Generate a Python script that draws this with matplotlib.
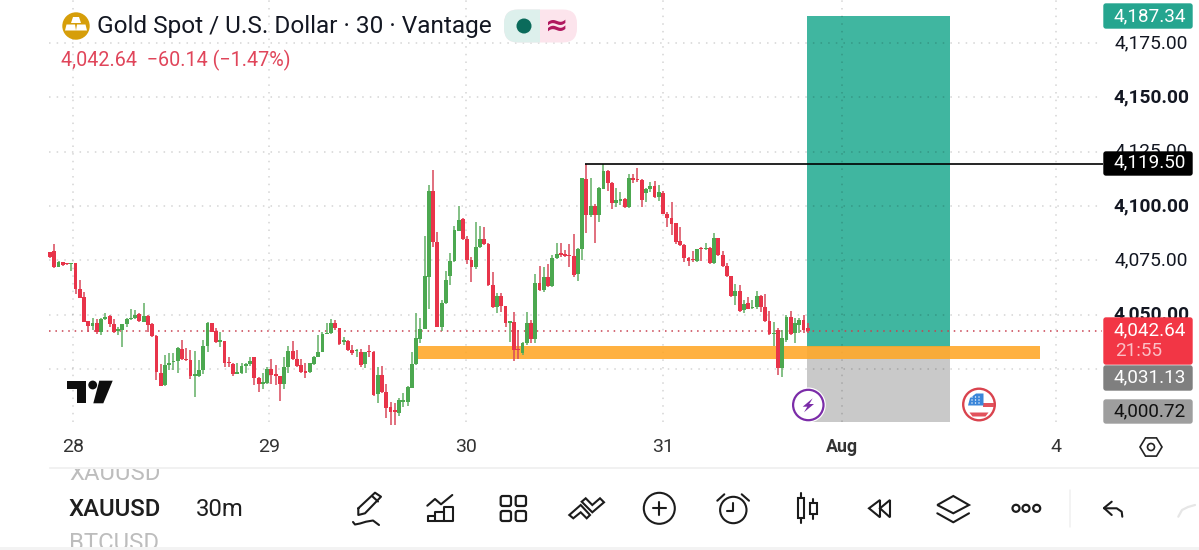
import numpy as np
import matplotlib
matplotlib.use("Agg")
import matplotlib.pyplot as plt
from matplotlib.patches import FancyBboxPatch, Circle, Ellipse, Polygon, Rectangle, Wedge

plt.rcParams['font.family'] = ['Roboto', 'DejaVu Sans']

opens = [4079.0,4079.3,4072.1,4074.1,4073.3,4073.1,4073.6,4061.6,4058.0,4047.2,
4044.8,4046.0,4041.8,4047.8,4049.5,4045.7,4042.5,4042.9,4045.5,4048.0,
4048.3,4050.3,4046.8,4049.5,4045.7,4040.2,4023.0,4017.4,4026.6,4028.2,
4028.8,4034.3,4029.6,4029.1,4021.9,4021.9,4024.5,4035.5,4046.3,4042.4,
4037.5,4037.8,4028.2,4027.3,4022.8,4023.3,4026.3,4027.3,4030.3,4020.8,
4018.2,4018.4,4024.9,4022.6,4021.7,4018.0,4025.7,4033.1,4029.4,4027.0,
4023.7,4023.4,4027.1,4030.6,4032.8,4041.1,4041.4,4046.0,4043.8,4037.5,
4038.0,4033.7,4033.2,4032.9,4027.3,4033.1,4032.9,4013.3,4022.3,4014.4,
4007.3,4005.6,4004.8,4009.9,4009.9,4016.4,4027.3,4038.8,4043.5,4067.5,
4106.9,4083.6,4044.4,4055.2,4067.8,4074.8,4088.7,4093.9,4084.7,4075.1,
4071.8,4081.0,4084.7,4082.5,4063.6,4053.7,4058.6,4054.1,4046.3,4046.6,
4034.0,4032.5,4036.8,4046.3,4038.8,4064.4,4061.3,4067.5,4063.2,4076.2,
4078.1,4077.6,4077.3,4077.0,4068.7,4080.1,4112.3,4095.9,4100.2,4095.9,
4107.8,4116.1,4110.8,4101.2,4102.5,4103.1,4099.4,4112.8,4112.3,4112.0,
4106.2,4107.7,4109.2,4104.3,4105.8,4096.3,4094.3,4092.0,4084.0,4082.2,
4075.9,4075.4,4074.7,4080.5,4080.2,4080.8,4073.9,4085.1,4077.5,4072.4,
4067.8,4058.6,4060.7,4052.1,4055.2,4053.0,4053.3,4058.6,4053.7,4047.1,
4040.9,4042.9,4025.3,4038.3,4049.1,4041.4,4045.4,4047.5,4043.7]

highs = [4079.0,4082.4,4074.7,4074.4,4073.6,4073.6,4073.6,4065.9,4060.6,4047.2,
4048.6,4047.8,4048.3,4050.6,4049.8,4047.8,4044.4,4045.7,4048.3,4052.4,
4052.1,4050.9,4055.2,4049.8,4046.0,4040.5,4027.3,4031.4,4032.5,4032.2,
4035.2,4038.3,4034.5,4033.7,4033.4,4029.1,4038.3,4046.7,4046.3,4043.7,
4042.1,4037.8,4030.6,4027.6,4027.6,4027.6,4027.6,4030.3,4030.6,4021.4,
4023.0,4026.0,4029.4,4026.8,4021.7,4030.6,4035.5,4037.7,4033.7,4029.4,
4027.6,4027.6,4030.9,4040.6,4042.1,4046.0,4047.8,4047.5,4043.8,4039.8,
4038.3,4036.0,4034.0,4034.3,4032.9,4036.2,4033.2,4026.0,4026.3,4018.0,
4009.9,4009.2,4011.4,4013.7,4017.1,4032.9,4050.6,4048.3,4086.2,4109.7,
4116.6,4088.2,4056.7,4070.2,4078.2,4090.8,4100.2,4094.3,4086.2,4076.7,
4092.8,4090.8,4090.2,4082.8,4069.8,4059.8,4060.1,4054.1,4047.2,4051.0,
4042.9,4037.5,4051.0,4047.5,4068.5,4072.5,4072.1,4073.2,4077.5,4082.8,
4082.8,4079.8,4082.4,4087.0,4080.5,4112.8,4119.5,4112.8,4101.0,4108.6,
4119.4,4116.6,4111.2,4108.1,4106.6,4103.5,4114.8,4114.8,4117.4,4112.3,
4108.1,4111.2,4111.7,4109.7,4107.1,4097.4,4101.7,4092.3,4090.2,4082.5,
4076.4,4079.4,4080.4,4081.0,4082.8,4081.3,4087.4,4085.1,4079.4,4073.9,
4067.8,4064.1,4063.8,4056.7,4058.3,4056.7,4060.9,4058.9,4059.5,4051.7,
4046.8,4043.7,4042.9,4049.8,4051.8,4048.3,4048.3,4049.8,4046.0]

lows = [4075.9,4071.3,4071.8,4072.2,4072.8,4070.2,4059.5,4057.5,4046.8,4042.1,
4042.9,4041.0,4040.6,4047.5,4044.4,4041.7,4040.6,4034.9,4044.4,4047.5,
4047.8,4046.4,4046.4,4042.1,4039.5,4019.9,4017.1,4017.3,4024.5,4024.5,
4023.0,4029.1,4028.8,4020.2,4011.9,4021.4,4022.6,4032.9,4041.8,4036.8,
4035.2,4025.7,4025.7,4021.9,4022.6,4022.6,4023.3,4026.3,4017.6,4014.2,
4015.6,4018.0,4018.0,4017.6,4010.4,4015.6,4023.3,4029.1,4026.0,4023.0,
4020.8,4023.3,4026.8,4030.3,4032.8,4041.1,4041.1,4042.9,4035.8,4036.0,
4033.4,4031.4,4030.3,4026.0,4025.3,4030.3,4012.7,4009.2,4013.8,4002.5,
3999.3,3999.3,4003.3,4007.6,4007.9,4016.1,4026.8,4036.8,4043.2,4052.4,
4081.0,4044.4,4042.6,4054.9,4063.6,4074.4,4088.5,4084.4,4073.3,4065.2,
4070.8,4080.8,4082.0,4063.3,4053.0,4050.9,4051.0,4044.4,4037.5,4028.6,
4029.4,4031.4,4036.0,4036.8,4036.8,4061.0,4060.6,4062.9,4062.9,4075.8,
4076.7,4076.4,4072.1,4067.5,4065.5,4075.1,4087.4,4095.1,4083.1,4092.8,
4107.7,4107.1,4098.6,4099.7,4100.5,4098.9,4098.9,4110.4,4110.9,4099.4,
4102.0,4106.6,4103.5,4102.5,4096.2,4090.5,4086.7,4082.4,4081.6,4074.4,
4072.4,4074.4,4074.4,4074.8,4079.8,4073.3,4073.3,4077.0,4072.1,4067.5,
4058.3,4054.4,4051.4,4050.6,4052.4,4052.4,4052.6,4051.4,4046.8,4040.6,
4035.5,4022.2,4021.4,4037.5,4040.6,4036.8,4041.4,4041.4,4041.7]

closes = [4076.4,4072.1,4074.1,4072.6,4073.1,4073.5,4061.6,4057.8,4046.8,4044.8,
4046.0,4041.8,4047.8,4049.1,4045.5,4041.8,4043.4,4045.7,4048.0,4048.6,
4049.8,4047.0,4049.5,4045.2,4040.2,4023.4,4017.3,4026.8,4027.6,4028.8,
4034.5,4029.4,4029.1,4021.7,4022.3,4024.5,4035.5,4046.3,4042.1,4037.2,
4037.8,4027.6,4027.6,4022.5,4023.3,4026.3,4027.3,4028.8,4020.6,4018.0,
4018.7,4024.9,4022.2,4021.7,4018.0,4025.7,4033.1,4029.4,4026.3,4023.4,
4023.3,4027.6,4030.6,4032.8,4041.1,4041.5,4046.0,4044.0,4036.5,4038.0,
4033.7,4032.2,4033.5,4026.8,4032.6,4032.8,4013.0,4022.3,4014.2,4007.1,
4005.3,4005.3,4010.7,4010.7,4016.8,4027.3,4039.1,4043.5,4067.8,4106.9,
4083.6,4044.4,4055.5,4065.9,4074.8,4089.0,4093.6,4084.7,4075.1,4071.8,
4081.0,4084.7,4082.5,4063.6,4053.7,4058.6,4054.1,4046.0,4046.8,4033.7,
4033.7,4036.8,4046.0,4038.8,4064.4,4061.3,4067.5,4063.2,4076.2,4077.9,
4077.6,4077.1,4077.0,4068.2,4080.1,4112.8,4095.9,4100.2,4095.9,4108.1,
4116.1,4110.8,4101.5,4102.8,4103.2,4099.4,4112.8,4112.0,4112.0,4102.8,
4107.7,4109.2,4104.0,4106.6,4096.3,4094.3,4091.7,4083.6,4082.0,4075.9,
4074.8,4075.0,4080.1,4080.1,4080.7,4073.9,4085.1,4077.5,4072.4,4067.8,
4058.6,4060.7,4051.8,4054.9,4052.7,4053.3,4058.6,4053.7,4047.1,4040.9,
4041.2,4025.6,4039.4,4049.1,4041.1,4046.3,4047.5,4042.9,4042.64]

price_ticks = [4175, 4150, 4125, 4100, 4075, 4050]
price_grid = [4175, 4150, 4125, 4100, 4075, 4050, 4025]
bold_ticks = [4150, 4100, 4050]
date_positions = [5.33, 51.5, 97.65, 143.9, 186.0, 236.3]
date_labels = ['28', '29', '30', '31', 'Aug', '4']

target_price = 4187.34
entry_price = 4035.1
stop_price = 4000.72
last_price = 4042.64
pivot_price = 4119.50
zone_top, zone_bottom = 4035.4, 4029.4
box_start, box_end = 177.8, 211.4
zone_start, zone_end = 86.2, 232.6

GREEN, RED = '#4CA850', '#E8344A'
GREEN_W, RED_W = '#62AF65', '#D8485A'

fig = plt.figure(figsize=(11.99, 5.5), dpi=100, facecolor='white')
ax = fig.add_axes([0, 0, 1, 1])
ax.set_xlim(-11.745, 269.9)
ax.set_ylim(3941.6, 4194.84)
ax.axis('off')

GRID_LEFT, GRID_RIGHT = -0.2, 247.1
ax.add_patch(Rectangle((box_start, entry_price), box_end - box_start, target_price - entry_price,
                       fc='#40B6A0', ec='none', zorder=1))
ax.add_patch(Rectangle((box_start, stop_price), box_end - box_start, entry_price - stop_price,
                       fc='#C9C9C9', ec='none', zorder=1))
ax.hlines(price_grid, GRID_LEFT, GRID_RIGHT, colors='black', alpha=0.17, lw=1.1, linestyles=(0, (1, 4)), zorder=1.5)
ax.vlines(date_positions, 4000.4, 4194.84, colors='black', alpha=0.17, lw=1.1, linestyles=(0, (1, 4)), zorder=1.5)
ax.add_patch(Rectangle((zone_start, zone_bottom), zone_end - zone_start, zone_top - zone_bottom,
                       fc='#FFA726', ec='none', alpha=0.88, zorder=2))
ax.hlines(last_price, GRID_LEFT, GRID_RIGHT, colors='#C8404F', lw=1.1, linestyles=(0, (1, 3.2)), zorder=2.5)

x = np.arange(len(opens))
o, h, l, c = map(np.array, (opens, highs, lows, closes))
up = c >= o
ax.vlines(x[up], l[up], h[up], colors=GREEN_W, lw=1.1, zorder=3)
ax.vlines(x[~up], l[~up], h[~up], colors=RED_W, lw=1.1, zorder=3)
ax.bar(x[up], np.maximum((c - o)[up], 0.6), bottom=o[up], width=0.9, color=GREEN, zorder=3.2, linewidth=0)
ax.bar(x[~up], np.maximum((o - c)[~up], 0.6), bottom=c[~up], width=0.9, color=RED, zorder=3.2, linewidth=0)

ax.hlines(pivot_price, 125.7, 247.4, colors='black', lw=1.2, zorder=4)

for p in price_ticks:
    ax.text(1151.5 / 4.257 - 11.745, p, f'{p:,.2f}', ha='center', va='center', fontsize=13.8,
            color='#131722', fontweight='bold' if p in bold_ticks else 'normal', zorder=5)
for pos, lab in zip(date_positions, date_labels):
    ax.text(pos, 3941.6 + (550 - 447) / 2.172, lab, ha='center', va='center', fontsize=12.8 if lab == 'Aug' else 14,
            color='#333333', fontweight='bold' if lab == 'Aug' else 'normal', zorder=5)

# pixel overlay
px = fig.add_axes([0, 0, 1, 1], facecolor='none')
px.set_xlim(0, 1199)
px.set_ylim(550, 0)
px.axis('off')

def tag(y0, y1, color, z=6):
    px.add_patch(FancyBboxPatch((1104, y0 + 1), 88, y1 - y0 - 2, boxstyle='round,pad=0,rounding_size=2',
                                fc=color, ec=color, lw=1, zorder=z))

TAGF = 13.6
tag(3, 29, '#25A58F')
px.text(1150, 16, '4,187.34', color='white', fontsize=TAGF, ha='center', va='center', zorder=7)
tag(151, 176, '#000000')
px.text(1150, 162.5, '4,119.50', color='white', fontsize=TAGF, ha='center', va='center', zorder=7)
tag(365, 391, '#7F7F7F', 5.8)
px.text(1150, 377, '4,031.13', color='white', fontsize=TAGF, ha='center', va='center', zorder=7)
tag(317, 365, '#F23645')
px.text(1150, 330, '4,042.64', color='white', fontsize=TAGF, ha='center', va='center', zorder=7)
px.text(1115, 351, '21:55', color='#FBC0C6', fontsize=TAGF, ha='left', va='center', zorder=7)
tag(399, 424, '#9E9E9E')
px.text(1150, 411, '4,000.72', color='#111111', fontsize=TAGF, ha='center', va='center', zorder=7)

# header
px.add_patch(Circle((76, 26), 13.7, fc='#D69E0A', ec='none'))
px.add_patch(Polygon([(73, 17), (79, 17), (81, 23), (71, 23)], fc='white', ec='none'))
px.add_patch(Polygon([(66.5, 24.5), (75, 24.5), (76, 30.5), (65, 30.5)], fc='white', ec='none'))
px.add_patch(Polygon([(77, 24.5), (85.5, 24.5), (87, 30.5), (76, 30.5)], fc='white', ec='none'))
px.text(97, 26, 'Gold Spot / U.S. Dollar · 30 · Vantage', fontsize=17.55, color='#131722', ha='left', va='center')
px.text(61, 60.5, '4,042.64  −60.14 (−1.47%)', fontsize=14.25, color='#E0455A', ha='left', va='center')
px.add_patch(FancyBboxPatch((504, 9.5), 73, 33, boxstyle='round,pad=0,rounding_size=14', fc='#FCE4EC', ec='none'))
clip = Rectangle((504, 9), 36, 34, transform=px.transData)
left = FancyBboxPatch((504, 9.5), 73, 33, boxstyle='round,pad=0,rounding_size=14', fc='#DDF0EC', ec='none')
px.add_patch(left)
left.set_clip_path(clip)
px.add_patch(Ellipse((524, 26), 15, 15, fc='#0B6B5B', ec='none'))
px.text(557, 25.5, '≈', fontsize=20, fontweight='bold', color='#B0185F', ha='center', va='center', family='DejaVu Sans')

# TradingView mark
px.add_patch(Polygon([(67.3, 380.7), (85.7, 380.7), (85.7, 403.3), (76.7, 403.3), (76.7, 389), (67.3, 389)], fc='#0E0E0E', ec='none'))
px.add_patch(Circle((92.7, 385), 4.4, fc='#0E0E0E', ec='none'))
px.add_patch(Polygon([(99.3, 380.7), (112.7, 380.7), (103.3, 403.3), (93.3, 403.3)], fc='#0E0E0E', ec='none'))

# lightning badge
px.add_patch(Circle((808.3, 405), 17.5, fc='white', ec='none', zorder=8))
px.add_patch(Circle((808.3, 405), 15.2, fc='white', ec='#7B2CA8', lw=1.6, zorder=8.1))
px.add_patch(Polygon([(812.7, 398.3), (802.7, 406.7), (807.3, 406.7), (804, 412.3), (814, 404), (809.3, 404)], fc='#7B2CA8', ec='none', zorder=8.2))

# flag badge
px.add_patch(Circle((979, 404.5), 15.8, fc='white', ec='#D9434E', lw=1.7, zorder=8))
px.add_patch(Rectangle((983, 402.5), 10.5, 4.2, fc='#E2525C', ec='none', zorder=8.1))
px.add_patch(Wedge((979, 411.5), 13, 0, 180, fc='none', ec='none', zorder=8.1))
px.add_patch(Polygon([(969.5, 412.5), (988.5, 412.5), (985.5, 416.5), (972.5, 416.5)], fc='#E2525C', ec='none', zorder=8.1))
px.add_patch(Polygon([(968, 405.5), (983.5, 405.5), (983.5, 393.5), (976, 393.5), (970, 398)], fc='#3B86D9', ec='none', zorder=8.2))
for dx in (972, 975.5, 979):
    for dy in (397, 400, 403):
        px.add_patch(Circle((dx, dy), 0.7, fc='white', ec='none', zorder=8.3))

# settings hex on the axis
a = np.deg2rad(np.arange(0, 360, 60))
px.add_patch(Polygon(np.c_[1151 + 11 * np.cos(a), 447 + 10.5 * np.sin(a)], fill=False, ec='#222222', lw=1.2))
px.add_patch(Circle((1151, 447), 3.5, fill=False, ec='#222222', lw=1.2))

# lower bar
px.plot([50, 1199], [468, 468], color='#EFEFEF', lw=1.2)
px.add_patch(Rectangle((0, 547), 1199, 3, fc='#F3F3F3', ec='none', zorder=3))
band = Rectangle((0, 469), 1199, 78, transform=px.transData)
t1 = px.text(69, 473, 'XAUUSD', fontsize=17.2, color='#BDBDBD', ha='left', va='center')
t1.set_clip_on(True); t1.set_clip_path(band)
t2 = px.text(69, 543, 'BTCUSD', fontsize=17.2, color='#BDBDBD', ha='left', va='center')
t2.set_clip_on(True); t2.set_clip_path(band)
px.text(69, 509, 'XAUUSD', fontsize=17.2, color='#1E1E1E', ha='left', va='center', fontweight='medium')
px.text(196, 509, '30m', fontsize=17.2, color='#1E1E1E', ha='left', va='center')

K = '#1C1C1C'
LW = 1.5
def line(xs, ys, color=K, lw=LW):
    px.plot(xs, ys, color=color, lw=lw, solid_capstyle='round', solid_joinstyle='round')

# pencil
line([358.3, 375, 381, 365, 358.3, 358.3], [508.3, 492.7, 496.7, 513.3, 515, 508.3])
line([372, 378], [496, 501.5])
line([353, 355, 360, 366, 373, 379], [522, 524.5, 523.5, 521.7, 520.5, 525])
# bars + trend
line([427.3, 435, 441, 452.3], [505.7, 499, 504.3, 495])
line([427.7, 452.7, 452.7, 444, 444, 443.3, 443.3, 435, 435, 427.7, 427.7],
     [520.7, 520.7, 506.7, 506.7, 511.7, 511.7, 511.7, 511.7, 516, 516, 520.7])
line([435, 435], [516, 520.7]); line([444, 444], [511.7, 520.7])
# four squares
for sx in (500.7, 515.7):
    for sy in (496, 511):
        px.add_patch(FancyBboxPatch((sx, sy), 10.3, 10, boxstyle='round,pad=0,rounding_size=2', fill=False, ec=K, lw=1.6))
# chevrons
px.add_patch(Polygon([(569.3, 515), (580.7, 505), (590, 515), (586.7, 518.3), (580.7, 512.3), (573.3, 518.3)], fill=False, ec=K, lw=1.5))
px.add_patch(Polygon([(581.7, 501.7), (585.7, 498.3), (592.3, 505), (600, 498.3), (604, 502.3), (592.3, 512.3)], fill=False, ec=K, lw=1.5))
# plus circle
px.add_patch(Circle((659.3, 508.3), 15.5, fill=False, ec=K, lw=1.5))
line([652.6, 666], [508.3, 508.3]); line([659.3, 659.3], [501.6, 515])
# alarm
px.add_patch(Circle((733.3, 510), 13.2, fill=False, ec=K, lw=1.5))
line([733.3, 733.3, 727.3], [503.3, 511, 511])
line([717.3, 724.3], [500.7, 494.3]); line([749, 741.7], [500.7, 494.3])
# candles
px.add_patch(Rectangle((797.7, 498.3), 6.6, 20, fill=False, ec=K, lw=1.5))
px.add_patch(Rectangle((810, 502.7), 6.7, 11.6, fill=False, ec=K, lw=1.5))
line([801, 801], [493.3, 498.3]); line([801, 801], [518.3, 523.3])
line([813.3, 813.3], [499, 502.7]); line([813.3, 813.3], [514.3, 519])
# rewind
px.add_patch(Polygon([(880, 500), (869, 508.3), (880, 517.3)], fill=False, ec=K, lw=1.5))
px.add_patch(Polygon([(890, 500), (880, 508.3), (890, 517.3)], fill=False, ec=K, lw=1.5))
# layers
px.add_patch(Polygon([(953.3, 496), (969, 505), (953.3, 513.3), (937.3, 505)], fill=False, ec=K, lw=1.5))
line([937.3, 953.3, 969], [513.3, 522.3, 513.3])
# dots
for dx in (1016, 1026, 1036.7):
    px.add_patch(Circle((dx, 508.3), 3.5, fill=False, ec=K, lw=1.6))
# divider
line([1070, 1070], [490, 527], color='#F0F0F0', lw=1.1)
# undo
line([1111.7, 1104, 1111.7], [501.7, 508, 515])
line([1104, 1116.7, 1121.7, 1122.3], [508.3, 508.3, 511.7, 516.7])
# redo (disabled)
line([1178.3, 1182, 1188, 1195], [516.7, 510, 507, 505], color='#E6E6E6', lw=1.6)

fig.savefig('out.png', dpi=100)
